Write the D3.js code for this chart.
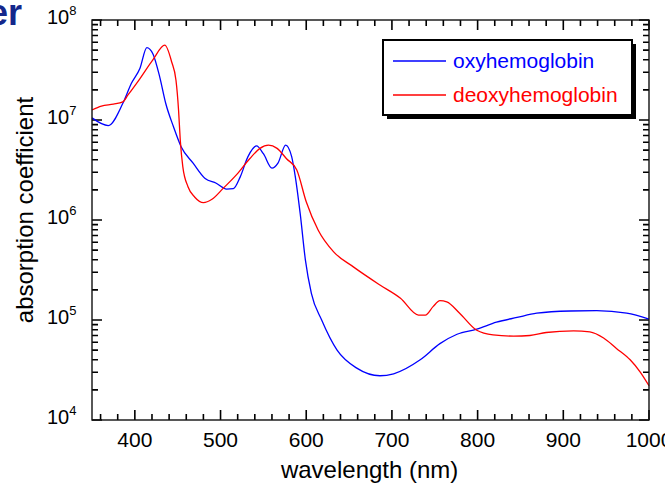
<!DOCTYPE html>
<html>
<head>
<meta charset="utf-8">
<script src="https://cdn.jsdelivr.net/npm/d3@7"></script>
<style>
  body { margin: 0; background: #fff; }
  svg { display: block; font-family: "Liberation Sans", Arial, Helvetica, sans-serif; }
</style>
</head>
<body>
<div id="chart"></div>
<script>
// wavelength (nm) and absorption coefficient
const oxyWavelength = [350, 369, 386, 396, 406, 414, 421, 429, 436, 445, 454, 468, 482, 495, 507, 515, 523, 532, 542, 550, 560, 567, 576, 583, 587, 593, 599, 606, 618, 636, 659, 686, 702, 733, 756, 776, 799, 822, 846, 869, 908, 939, 974, 1000];
const oxyValue = [1.05e7, 8.8e6, 1.47e7, 2.33e7, 3.3e7, 5.3e7, 4.6e7, 2.7e7, 1.47e7, 8.6e6, 5.4e6, 3.7e6, 2.6e6, 2.33e6, 2.04e6, 2.06e6, 2.7e6, 4.3e6, 5.5e6, 4.6e6, 3.3e6, 3.7e6, 5.6e6, 4.3e6, 2.8e6, 1.15e6, 4e5, 1.85e5, 1e5, 5e4, 3.3e4, 2.77e4, 2.9e4, 4e4, 5.8e4, 7.2e4, 8.1e4, 9.5e4, 1.06e5, 1.17e5, 1.23e5, 1.24e5, 1.17e5, 1.02e5];

const deoxyWavelength = [350, 361, 375, 386, 392, 406, 421, 435, 443, 448, 451, 453, 456, 462, 470, 480, 490, 503, 519, 534, 546, 556, 566, 577, 589, 600, 614, 632, 655, 686, 710, 731, 739, 748, 756, 764, 779, 799, 818, 842, 861, 880, 912, 931, 947, 962, 978, 990, 1000];
const deoxyValue = [1.26e7, 1.38e7, 1.44e7, 1.52e7, 1.78e7, 2.6e7, 4e7, 5.6e7, 3.8e7, 2.5e7, 1.26e7, 6.3e6, 3.4e6, 2.15e6, 1.69e6, 1.49e6, 1.61e6, 2.07e6, 2.86e6, 4.1e6, 5.2e6, 5.6e6, 5.2e6, 4.1e6, 3.16e6, 1.52e6, 7.9e5, 4.8e5, 3.4e5, 2.24e5, 1.65e5, 1.12e5, 1.12e5, 1.36e5, 1.56e5, 1.52e5, 1.17e5, 7.9e4, 7.1e4, 6.9e4, 7e4, 7.5e4, 7.8e4, 7.6e4, 6.6e4, 5.2e4, 4e4, 3e4, 2.2e4];

const seriesNames = ['oxyhemoglobin', 'deoxyhemoglobin'];
const seriesColors = ['#0000ff', '#ff0000'];
const xTicks = [400, 500, 600, 700, 800, 900, 1000];
const yExponents = [4, 5, 6, 7, 8];

const W = 665, H = 493;
const m = { left: 92, right: 16, top: 20, bottom: 73 };

const svg = d3.select('#chart').append('svg')
  .attr('width', W)
  .attr('height', H);

// leftover slide title, cut at the edge
svg.append('text')
  .attr('x', -12)
  .attr('y', 25)
  .attr('fill', '#14288c')
  .style('font-size', '36px')
  .style('font-weight', 'bold')
  .text('er');

const x = d3.scaleLinear().domain([350, 1000]).range([m.left, W - m.right]);
const y = d3.scaleLog().domain([1e4, 1e8]).range([H - m.bottom, m.top]);

const x0 = m.left, x1 = W - m.right, y0 = H - m.bottom, y1 = m.top;

const minorX = d3.range(360, 1000, 20).filter(d => d % 100 !== 0);
const majorY = yExponents.map(e => Math.pow(10, e));
const minorY = [];
yExponents.slice(0, -1).forEach(e => {
  for (let k = 2; k <= 9; k++) minorY.push(k * Math.pow(10, e));
});

// inward ticks on all four sides, drawn as one path
const xt = xTicks.map(d => ({ v: d, len: 10 })).concat(minorX.map(d => ({ v: d, len: 6 })));
const yt = majorY.map(d => ({ v: d, len: 10 })).concat(minorY.map(d => ({ v: d, len: 6 })));
let tickPath = '';
xt.forEach(d => {
  const px = x(d.v);
  tickPath += `M${px},${y0}V${y0 - d.len}M${px},${y1}V${y1 + d.len}`;
});
yt.forEach(d => {
  const py = y(d.v);
  tickPath += `M${x0},${py}H${x0 + d.len}M${x1},${py}H${x1 - d.len}`;
});
svg.append('path')
  .attr('d', tickPath)
  .attr('fill', 'none')
  .attr('stroke', '#000')
  .attr('stroke-width', 1.6);

// x tick labels
svg.append('g').selectAll('text')
  .data(xTicks)
  .enter()
  .append('text')
  .attr('x', d => x(d))
  .attr('y', y0 + 27)
  .attr('text-anchor', 'middle')
  .style('font-size', '21px')
  .text(d => d);

// y tick labels 10^n
const yl = svg.append('g').selectAll('text')
  .data(yExponents)
  .enter()
  .append('text')
  .attr('x', 47)
  .attr('y', d => y(Math.pow(10, d)) + 4)
  .style('font-size', '20px');
yl.append('tspan').text('10');
yl.append('tspan')
  .attr('dy', -9)
  .style('font-size', '13px')
  .text(d => d);

// curves
const line = d3.line()
  .x(d => x(d[0]))
  .y(d => y(d[1]))
  .curve(d3.curveMonotoneX);

const oxy = oxyWavelength.map((w, i) => [w, oxyValue[i]]);
const deoxy = deoxyWavelength.map((w, i) => [w, deoxyValue[i]]);

[oxy, deoxy].forEach((s, i) => {
  svg.append('path')
    .datum(s)
    .attr('fill', 'none')
    .attr('stroke', seriesColors[i])
    .attr('stroke-width', 1.3)
    .attr('d', line);
});

// frame
svg.append('rect')
  .attr('x', x0)
  .attr('y', y1)
  .attr('width', x1 - x0)
  .attr('height', y0 - y1)
  .attr('fill', 'none')
  .attr('stroke', '#111')
  .attr('stroke-width', 1.4);

// axis titles
svg.append('text')
  .attr('x', x(674))
  .attr('y', 478)
  .attr('text-anchor', 'middle')
  .style('font-size', '24px')
  .text('wavelength (nm)');

svg.append('text')
  .attr('transform', 'translate(33,210) rotate(-90)')
  .attr('text-anchor', 'middle')
  .style('font-size', '24px')
  .text('absorption coefficient');

// legend with drop shadow
const lg = svg.append('g').attr('transform', 'translate(383,40)');
lg.append('rect')
  .attr('x', 4).attr('y', 4)
  .attr('width', 249).attr('height', 75)
  .attr('fill', '#000');
lg.append('rect')
  .attr('width', 249).attr('height', 75)
  .attr('fill', '#fff')
  .attr('stroke', '#000')
  .attr('stroke-width', 2);

seriesNames.forEach((name, i) => {
  const ly = 21 + i * 34;
  lg.append('line')
    .attr('x1', 10).attr('x2', 63)
    .attr('y1', ly).attr('y2', ly)
    .attr('stroke', seriesColors[i])
    .attr('stroke-width', 1.3);
  lg.append('text')
    .attr('x', 70)
    .attr('y', ly + 7)
    .attr('fill', seriesColors[i])
    .style('font-size', '21px')
    .text(name);
});
</script>
</body>
</html>
